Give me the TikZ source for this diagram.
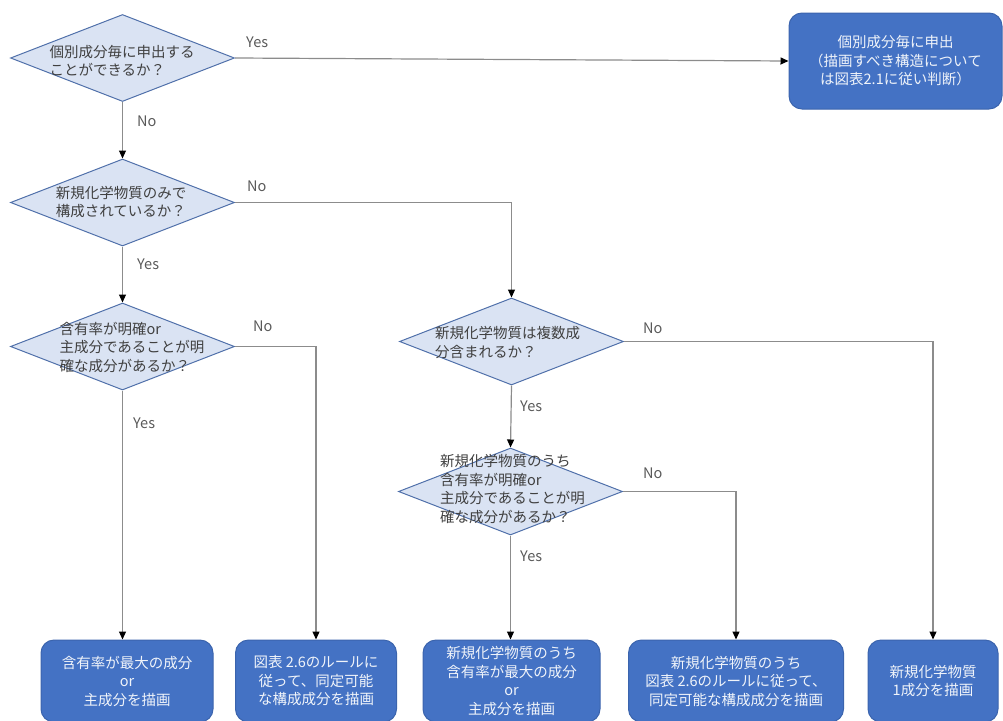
\documentclass[tikz,border=0pt]{standalone}
\usepackage{fontspec}
\setmainfont{Noto Sans CJK JP}
\usetikzlibrary{shapes.geometric,arrows.meta,positioning}
\definecolor{qfill}{HTML}{DAE3F3}
\definecolor{qline}{HTML}{5070AA}
\definecolor{bfill}{HTML}{4472C4}
\definecolor{bline}{HTML}{3B64AD}
\definecolor{qtext}{HTML}{404040}
\definecolor{ltext}{HTML}{595959}
\definecolor{wire}{HTML}{8C8C8C}
\newcommand\jfont{\fontsize{14.5}{18.5}\selectfont}

\begin{document}
\begin{tikzpicture}[x=1pt,y=-1pt,
		question/.style={diamond,draw=qline,fill=qfill,line width=1pt,inner sep=0pt,minimum width=224pt,minimum height=87pt},
		qtxt/.style={text=qtext,align=left,inner sep=0pt,font=\jfont},
		result/.style={rectangle,rounded corners=13pt,draw=bline,fill=bfill,line width=1pt,text=white!92!bfill,align=center,font=\jfont,minimum height=82pt,inner sep=0pt},
		answer/.style={text=ltext,anchor=west,inner sep=0pt,font=\jfont},
		flow/.style={draw=wire,line width=1.2pt,-{Triangle[length=8pt,width=7pt,color=black]}}]
		\useasboundingbox (0,0) rectangle (1003,720);
		%
		\node[question] (d1) at (122.5,58) {};
		\node[question] (d2) at (122.5,202.5) {};
		\node[question] (d3) at (122.5,346.5) {};
		\node[question] (d4) at (511.5,341.5) {};
		\node[question] (d5) at (510.5,491.5) {};
		\node[qtxt] (d1t) at (122,61) {個別成分毎に申出する\\ことができるか？};
		\node[qtxt] (d2t) at (121,202) {新規化学物質のみで\\構成されているか？};
		\node[qtxt] (d3t) at (132,347) {含有率が明確or\\主成分であることが明\\確な成分があるか？};
		\node[qtxt] (d4t) at (507.5,342.5) {新規化学物質は複数成\\分含まれるか？};
		\node[qtxt] (d5t) at (512.5,489) {新規化学物質のうち\\含有率が明確or\\主成分であることが明\\確な成分があるか？};
		%
		\node[result,minimum width=213pt,minimum height=96pt] (top) at (895.5,61) {個別成分毎に申出\\（描画すべき構造について\\は図表2.1に従い判断）};
		\node[result,minimum width=172pt] (b1) at (127,681) {含有率が最大の成分\\or\\主成分を描画};
		\node[result,minimum width=161pt] (b2) at (316,681) {図表 2.6のルールに\\従って、同定可能\\な構成成分を描画};
		\node[result,minimum width=177pt] (b3) at (511.5,681) {新規化学物質のうち\\含有率が最大の成分\\or\\主成分を描画};
		\node[result,minimum width=215pt] (b4) at (736,681) {新規化学物質のうち\\図表 2.6のルールに従って、\\同定可能な構成成分を描画};
		\node[result,minimum width=130pt] (b5) at (933,681) {新規化学物質\\1成分を描画};
		\coordinate (b1in) at (d3.south |- b1.north);
		\coordinate (b3in) at (d5.south |- b3.north);
		%
		\draw[flow] (d1.east) -- (top.west);
		\draw[flow] (d1.south) -- (d2.north);
		\draw[flow] (d2.east) -| (d4.north);
		\draw[flow] (d2.south) -- (d3.north);
		\draw[flow] (d3.east) -| (b2.north);
		\draw[flow] (d3.south) -- (b1in);
		\draw[flow] (d4.east) -| (b5.north);
		\draw[flow] (d4.south) -- (d5.north);
		\draw[flow] (d5.east) -| (b4.north);
		\draw[flow] (d5.south) -- (b3in);
		%
		\node[answer] (y1) at (246,42) {Yes};
		\node[answer] (n1) at (137,121) {No};
		\node[answer] (n2) at (247,186) {No};
		\node[answer] (y2) at (137,264) {Yes};
		\node[answer] (n3) at (253,326) {No};
		\node[answer] (y3) at (133,423) {Yes};
		\node[answer] (n4) at (643,328) {No};
		\node[answer] (y4) at (520,406) {Yes};
		\node[answer] (n5) at (643,473) {No};
		\node[answer] (y5) at (520,556) {Yes};
	\end{tikzpicture}
\end{document}
